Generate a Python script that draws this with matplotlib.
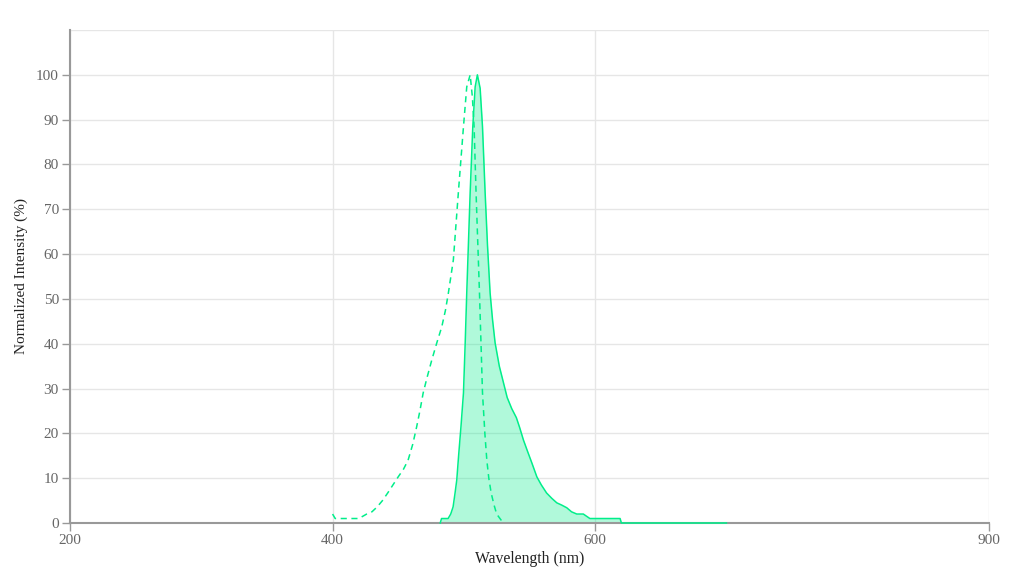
import matplotlib
matplotlib.use('Agg')
import matplotlib.pyplot as plt

# excitation spectrum (dashed)
ex_wl = [400, 402, 405, 410, 415, 420, 423, 426, 430, 434, 438, 442, 446, 450,
         454, 457.5, 461, 464, 466.5, 469, 472, 475.6, 479.4, 483.2, 486, 488.2,
         492, 495.8, 499.7, 502.2, 504.8, 506.5, 507.8, 509.3, 511.9, 514.2,
         516, 517.5, 519, 520.8, 523, 525, 527.5, 530]
ex_val = [2, 1, 1, 1, 1, 1, 1.5, 2, 2.5, 3.6, 5, 6.7, 8.5, 10.3, 12, 14, 17.5,
          21.4, 25, 29, 32.5, 36.4, 40.2, 43.8, 47.5, 51.3, 58.7, 73.7, 88.4,
          97.3, 100, 95, 88.4, 73.7, 51.3, 29, 20, 14, 10, 6.7, 4, 2, 1, 0]

# emission spectrum (solid, filled)
em_wl = [482, 483, 486, 488, 490, 491.8, 493.3, 494.6, 496, 497.8, 499.7, 501,
         502.2, 503.5, 504.8, 506.8, 508.6, 510.3, 512.4, 514.2, 516.2, 518,
         520, 521.8, 523.8, 527, 530, 533, 536.5, 540, 542.5, 545.4, 548.5,
         551.8, 555.6, 559, 563, 567, 570.8, 574.5, 578.4, 582, 586, 591, 596,
         605, 612, 619, 620, 650, 680, 700]
em_val = [0, 1, 1, 1, 2, 3.6, 6.7, 9.6, 15, 21.5, 29, 40, 51.3, 62.5, 73.7,
          88.4, 97.3, 100, 97, 88.4, 73.7, 62, 51.3, 45.5, 40.2, 35, 31.5, 28,
          25.5, 23.5, 21.3, 18.5, 16, 13.4, 10.3, 8.5, 6.7, 5.5, 4.5, 4, 3.4,
          2.5, 2, 2, 1, 1, 1, 1, 0, 0, 0, 0]

x_ticks = [200, 400, 600, 900]
y_ticks = [0, 10, 20, 30, 40, 50, 60, 70, 80, 90, 100]

line_color = '#00ee8a'
axis_gray = '#999999'
grid_gray = '#e6e6e6'

plt.rcParams['font.family'] = ['Liberation Serif', 'DejaVu Serif']

fig = plt.figure(figsize=(10.1, 5.74), dpi=100)
ax = fig.add_axes([70 / 1010, 1 - 523 / 574, (989 - 70) / 1010, (523 - 30) / 574])

ax.fill_between(em_wl, em_val, 0, color=line_color, alpha=0.31, linewidth=0)
ax.plot(em_wl, em_val, color=line_color, linewidth=1.1, zorder=3, clip_on=False)
ax.plot(ex_wl, ex_val, color=line_color, linewidth=1.1, linestyle=(0, (4, 3)),
        zorder=3, clip_on=False)

ax.set_xlim(200, 900)
ax.set_ylim(0, 110)
ax.set_xticks(x_ticks)
ax.set_yticks(y_ticks)
ax.set_yticks([110], minor=True)
ax.grid(True, which='both', color=grid_gray, linewidth=1)
ax.tick_params(which='minor', length=0)
ax.set_axisbelow(True)

for side in ['top', 'right']:
    ax.spines[side].set_visible(False)
for side in ['left', 'bottom']:
    ax.spines[side].set_color(axis_gray)
    ax.spines[side].set_linewidth(1.5)

ax.tick_params(axis='both', which='major', colors=axis_gray, labelcolor='#666666',
               labelsize=11, length=6, width=1, pad=2)

ax.set_xlabel('Wavelength (nm)', fontsize=11.3, color='#222222', labelpad=3)
ax.set_ylabel('Normalized Intensity (%)', fontsize=11, color='#222222', labelpad=6)

plt.savefig('out.png', dpi=100)
